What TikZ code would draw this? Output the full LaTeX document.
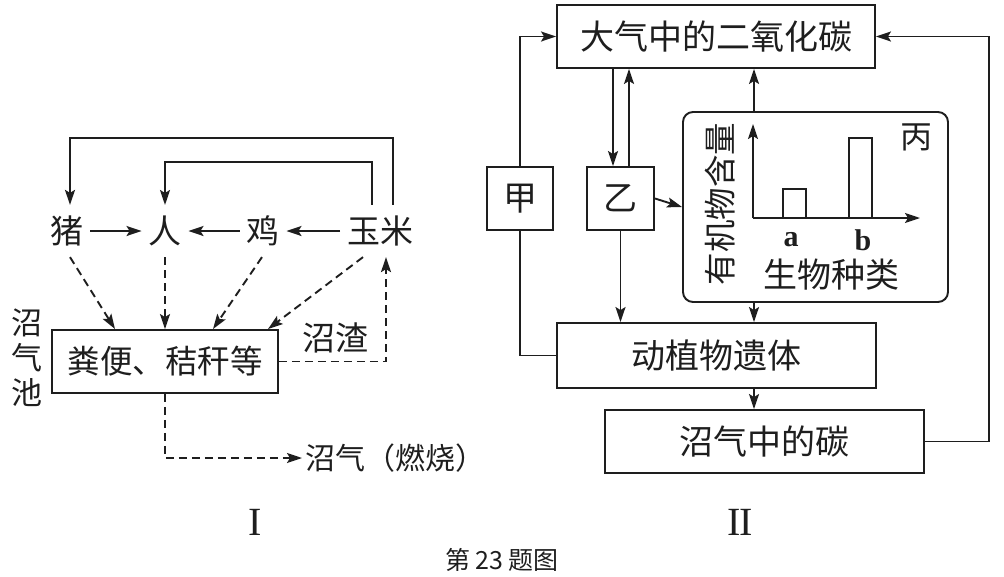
\documentclass[tikz,border=0pt]{standalone}
\usepackage{fontspec}
\setmainfont{Liberation Serif}
\newfontfamily\cjk{Noto Sans CJK SC}
\usetikzlibrary{arrows.meta,calc}
\definecolor{ink}{RGB}{30,30,30}
\begin{document}
\begin{tikzpicture}[x=1pt,y=-1pt,line width=1.9pt,draw=ink,text=ink,
  arr/.style={-{Stealth[length=15pt,width=10pt,inset=3pt]}},
  dsh/.style={dash pattern=on 8pt off 5pt},
  lab/.style={font=\cjk\fontsize{33}{38}\selectfont,inner xsep=6pt,inner ysep=10pt},
  bx/.style={draw,font=\cjk\fontsize{34}{38}\selectfont,inner sep=0pt}]
\useasboundingbox (0,0) rectangle (1004,576);

% ---------- Diagram I ----------
\node[lab] (zhu) at (67,231) {猪};
\node[lab] (ren) at (165,231) {人};
\node[lab] (ji) at (263,231) {鸡};
\node[lab] (yumi) at (380,231) {玉米};
\node[bx,font=\cjk\fontsize{32.5}{38}\selectfont,minimum width=226pt,minimum height=63pt] (fb) at (165,361.5) {粪便、秸秆等};
\node[lab] (zz) at (335,338) {沼渣};
\node[lab,font=\cjk\fontsize{31}{35}\selectfont,align=center] (zqc) at (27,358) {沼\\气\\池};
\node[lab,font=\cjk\fontsize{30}{36}\selectfont,anchor=west,inner xsep=3pt] (zqr) at (302,458) {沼气（燃烧）};

\coordinate (t1) at (70,138);
\coordinate (t2) at (165,162);
\draw[arr] ([xshift=13pt]yumi.north) |- (t1) -- (t1 |- zhu.north);
\draw[arr] ([xshift=-8pt]yumi.north) |- (t2) -- (ren.north);
\draw[arr] (zhu) -- (ren);
\draw[arr] (ji) -- (ren);
\draw[arr] (yumi) -- (ji);

\draw[dsh,arr] ([xshift=3pt]zhu.south) -- ([xshift=-50pt]fb.north);
\draw[dsh,arr] (ren.south) -- (fb.north);
\draw[dsh,arr] ([xshift=-1pt]ji.south) -- ([xshift=48pt]fb.north);
\draw[dsh,arr] ([xshift=-17pt]yumi.south) -- ([xshift=103pt]fb.north);
\draw[dsh,arr] (fb.east) -| ([xshift=6pt]yumi.south);
\draw[dsh,arr] (fb.south) |- (zqr.west);

% ---------- Diagram II ----------
\node[bx,minimum width=318pt,minimum height=63pt] (atm) at (716,36.5) {大气中的二氧化碳};
\node[bx,minimum width=66pt,minimum height=63pt] (jia) at (520,198.5) {甲};
\node[bx,minimum width=67pt,minimum height=63pt] (yi) at (620.5,198.5) {乙};
\node[bx,rounded corners=10pt,minimum width=265pt,minimum height=190pt] (bing) at (815.5,207) {};
\node[bx,minimum width=319pt,minimum height=65pt] (dz) at (716.5,355.5) {动植物遗体};
\node[bx,minimum width=319pt,minimum height=63pt] (zq) at (764.5,441.5) {沼气中的碳};

% chart inside 丙
\coordinate (o) at (753,218);
\draw[arr] (o) -- (753,124);
\draw[arr] (o) -- (920,218);
\draw (783,218) rectangle (806,189);
\draw (849,218) rectangle (872,138);
\node[font=\bfseries\fontsize{30}{34}\selectfont] (la) at (791,240) {a};
\node[font=\bfseries\fontsize{30}{34}\selectfont] (lb) at (863,240) {b};
\node[lab,font=\cjk\fontsize{34}{38}\selectfont] (xl) at (831,275) {生物种类};
\node[lab,font=\cjk\fontsize{32.5}{38}\selectfont,rotate=90] (yl) at (720,204) {有机物含量};
\node[lab,font=\cjk\fontsize{32}{38}\selectfont] (bl) at (916,137) {丙};

\coordinate (xa) at (613,0);
\coordinate (xb) at (629,0);
\coordinate (xc) at (754,0);
\coordinate (xr) at (989,0);
\draw[arr] (jia.north) |- (atm.west);
\draw[arr] (atm.south -| xa) -- (yi.north -| xa);
\draw[arr] (yi.north -| xb) -- (atm.south -| xb);
\draw[arr] (yi.east) -- (bing.west);
\draw[arr] (bing.north -| xc) -- (atm.south -| xc);
\draw[arr] (bing.south -| xc) -- (dz.north -| xc);
\draw[arr] (yi.south) -- (yi.south |- dz.north);
\draw (dz.west) -| (jia.south);
\draw[arr] (dz.south -| xc) -- (zq.north -| xc);
\draw[arr] (zq.east) -- (zq.east -| xr) -- (atm.east -| xr) -- (atm.east);

% ---------- captions ----------
\node[font=\fontsize{40}{40}\selectfont] (n1) at (255,522) {I};
\node[font=\fontsize{40}{40}\selectfont] (n2) at (740,522) {I\kern-1.5pt I};
\node[font=\cjk\fontsize{25}{30}\selectfont] (cap) at (502,560) {第 23 题图};
\end{tikzpicture}
\end{document}
